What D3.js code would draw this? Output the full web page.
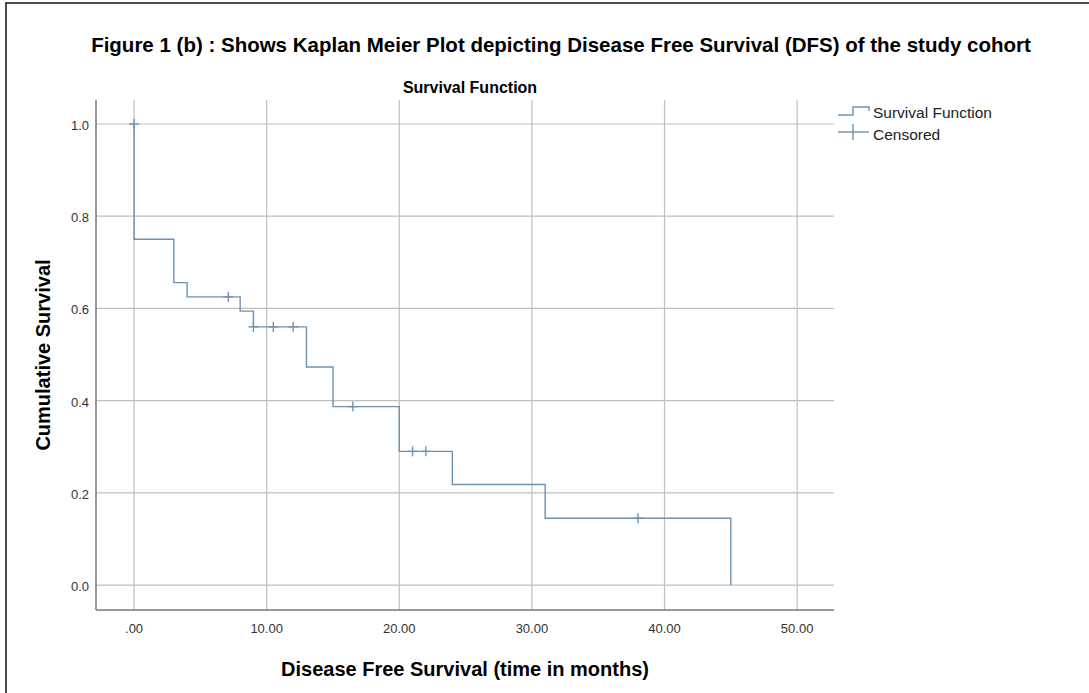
<!DOCTYPE html>
<html>
<head>
<meta charset="utf-8">
<script src="https://cdn.jsdelivr.net/npm/d3@7"></script>
<style>
  body { margin: 0; background: #fff; }
  svg { font-family: Arial, "Liberation Sans", sans-serif; }
  .grid line { stroke: #bfbfbf; stroke-width: 1.2; }
  .axis-line { stroke: #777; stroke-width: 1.5; }
  .tick-label { font-size: 13px; fill: #333; }
  .curve { fill: none; stroke: #6f92b2; stroke-width: 1.4; }
  .censor { stroke: #6f92b2; stroke-width: 1.4; }
</style>
</head>
<body>
<script>
// step times (months) and survival after each event
var eventTimes = [0, 3, 4, 8, 9, 13, 15, 20, 24, 31, 45];
var survival   = [0.75, 0.656, 0.625, 0.594, 0.56, 0.473, 0.387, 0.29, 0.218, 0.145, 0.0];

// censored observations
var censorTimes = [0, 7.1, 9, 10.5, 12, 16.5, 21, 22, 38];
var censorSurv  = [1.0, 0.625, 0.56, 0.56, 0.56, 0.387, 0.29, 0.29, 0.145];

var xTicks = [0, 10, 20, 30, 40, 50];
var xTickLabels = [".00", "10.00", "20.00", "30.00", "40.00", "50.00"];
var yTicks = [0, 0.2, 0.4, 0.6, 0.8, 1.0];
var yTickLabels = ["0.0", "0.2", "0.4", "0.6", "0.8", "1.0"];

var W = 1089, H = 693;
var plot = {left: 96, top: 100, right: 834, bottom: 610};

var svg = d3.select("body").append("svg")
    .attr("width", W)
    .attr("height", H);

// outer frame (only top/left visible, rest cropped)
svg.append("rect")
    .attr("x", 6).attr("y", 3)
    .attr("width", W + 20).attr("height", H + 20)
    .attr("fill", "none")
    .attr("stroke", "#111")
    .attr("stroke-width", 1.5);

var x = d3.scaleLinear().domain([-2.87, 52.78]).range([plot.left, plot.right]);
var y = d3.scaleLinear().domain([-0.0541, 1.052]).range([plot.bottom, plot.top]);

// grid
var grid = svg.append("g").attr("class", "grid");
grid.selectAll(".vx").data(xTicks).enter().append("line")
    .attr("x1", function(d) { return x(d); })
    .attr("x2", function(d) { return x(d); })
    .attr("y1", plot.top)
    .attr("y2", plot.bottom);
grid.selectAll(".hy").data(yTicks).enter().append("line")
    .attr("x1", plot.left)
    .attr("x2", plot.right)
    .attr("y1", function(d) { return y(d); })
    .attr("y2", function(d) { return y(d); });

// axes lines
svg.append("line").attr("class", "axis-line")
    .attr("x1", plot.left).attr("x2", plot.left)
    .attr("y1", plot.top).attr("y2", plot.bottom);
svg.append("line").attr("class", "axis-line")
    .attr("x1", plot.left).attr("x2", plot.right)
    .attr("y1", plot.bottom).attr("y2", plot.bottom);

// tick labels
svg.selectAll(".xl").data(xTicks).enter().append("text")
    .attr("class", "tick-label")
    .attr("x", function(d) { return x(d); })
    .attr("y", 633)
    .attr("text-anchor", "middle")
    .text(function(d, i) { return xTickLabels[i]; });
svg.selectAll(".yl").data(yTicks).enter().append("text")
    .attr("class", "tick-label")
    .attr("x", 89)
    .attr("y", function(d) { return y(d) + 6; })
    .attr("text-anchor", "end")
    .text(function(d, i) { return yTickLabels[i]; });

// survival curve
var pts = [[0, 1.0]];
eventTimes.forEach(function(t, i) { pts.push([t, survival[i]]); });
svg.append("path")
    .datum(pts)
    .attr("class", "curve")
    .attr("d", d3.line()
                 .curve(d3.curveStepAfter)
                 .x(function(d) { return x(d[0]); })
                 .y(function(d) { return y(d[1]); }));

// censor marks
var cs = censorTimes.map(function(t, i) { return [t, censorSurv[i]]; });
var cg = svg.append("g");
cg.selectAll(".cv").data(cs).enter().append("line")
    .attr("class", "censor")
    .attr("x1", function(d) { return x(d[0]); })
    .attr("x2", function(d) { return x(d[0]); })
    .attr("y1", function(d) { return y(d[1]) - 5; })
    .attr("y2", function(d) { return y(d[1]) + 5; });
cg.selectAll(".ch").data(cs).enter().append("line")
    .attr("class", "censor")
    .attr("x1", function(d) { return x(d[0]) - 5; })
    .attr("x2", function(d) { return x(d[0]) + 5; })
    .attr("y1", function(d) { return y(d[1]); })
    .attr("y2", function(d) { return y(d[1]); });

// legend
var lg = svg.append("g").attr("transform", "translate(838,0)");
lg.append("path")
    .attr("class", "curve")
    .attr("d", "M0,115H15V107H31V111");
lg.append("line").attr("class", "censor")
    .attr("x1", 0).attr("x2", 31).attr("y1", 132).attr("y2", 132);
lg.append("line").attr("class", "censor")
    .attr("x1", 15).attr("x2", 15).attr("y1", 124).attr("y2", 140);
lg.append("text").attr("x", 35).attr("y", 118)
    .style("font-size", "15.5px").attr("fill", "#222")
    .text("Survival Function");
lg.append("text").attr("x", 35).attr("y", 140)
    .style("font-size", "15.5px").attr("fill", "#222")
    .text("Censored");

// titles
svg.append("text")
    .attr("x", 561).attr("y", 52)
    .attr("text-anchor", "middle")
    .style("font-size", "20.5px").style("font-weight", "bold")
    .text("Figure 1 (b) : Shows Kaplan Meier Plot depicting Disease Free Survival (DFS) of the study cohort");
svg.append("text")
    .attr("x", 470).attr("y", 93)
    .attr("text-anchor", "middle")
    .style("font-size", "16px").style("font-weight", "bold")
    .text("Survival Function");
svg.append("text")
    .attr("x", 465).attr("y", 676)
    .attr("text-anchor", "middle")
    .style("font-size", "20px").style("font-weight", "bold")
    .text("Disease Free Survival (time in months)");
svg.append("text")
    .attr("transform", "translate(50,355) rotate(-90)")
    .attr("text-anchor", "middle")
    .style("font-size", "20px").style("font-weight", "bold")
    .text("Cumulative Survival");
</script>
</body>
</html>
